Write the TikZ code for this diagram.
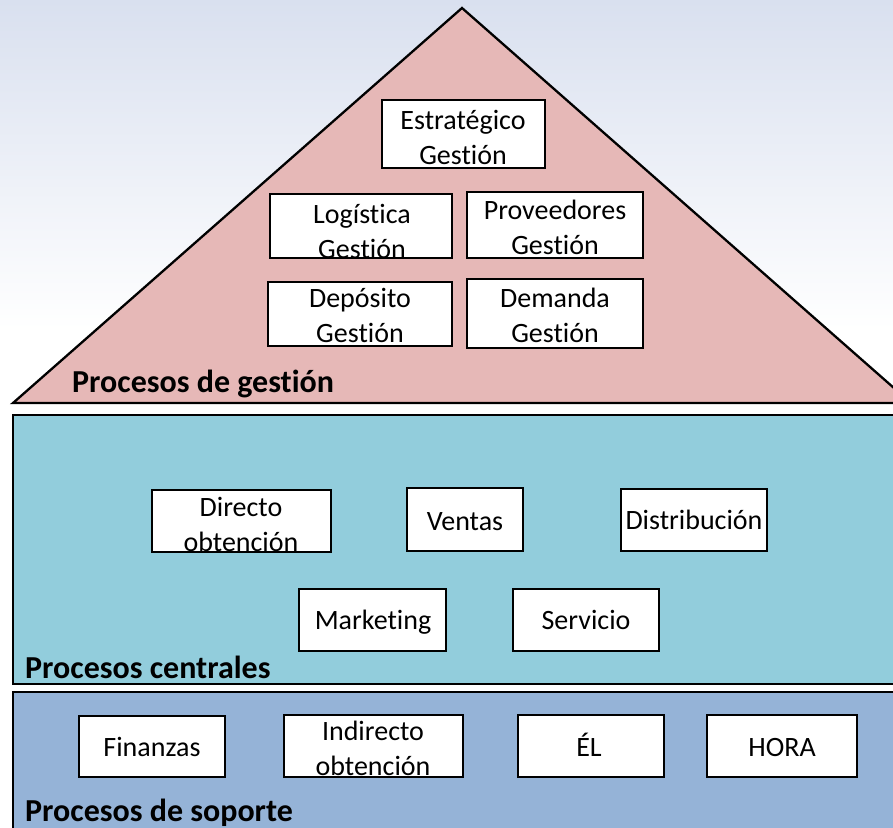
\documentclass[tikz,border=0pt]{standalone}
\usepackage{fontspec}
\setmainfont[Ligatures=NoCommon]{Carlito}
\definecolor{pinkfill}{HTML}{E6B8B7}
\definecolor{cyanfill}{HTML}{92CDDC}
\definecolor{bluefill}{HTML}{95B3D7}
\definecolor{bgtop}{HTML}{D9E0EF}
\begin{document}
\begin{tikzpicture}[x=1pt,y=-1pt,
  procbox/.style={draw=black, fill=white, line width=2.6pt, inner sep=0pt, outer sep=0pt},
  boxtext/.style={font=\fontsize{28}{35}\selectfont, align=center, inner sep=0pt},
  sectlabel/.style={font=\fontsize{32}{36}\selectfont\bfseries, anchor=base west, inner sep=0pt},
  band/.style={draw=black, line width=2.3pt}]
\useasboundingbox (0,0) rectangle (893,827);
\clip (0,0) rectangle (893,827);
% background
\fill[white] (0,0) rectangle (893,827);
\shade[top color=bgtop, bottom color=white] (0,0) rectangle (893,330);
% pyramid and bands
\filldraw[band, fill=pinkfill, line join=miter] (462,8) -- (13,403) -- (911,403) -- cycle;
\filldraw[band, fill=cyanfill] (13,415) rectangle (905,684);
\filldraw[band, fill=bluefill] (13,692) rectangle (905,850);
% section labels
\node[sectlabel] (lg) at (72,392) {Procesos de gestión};
\node[sectlabel] (lc) at (25,678) {Procesos centrales};
\node[sectlabel] (ls) at (25,821) {Procesos de soporte};
% management boxes
\node[procbox, minimum width=163, minimum height=68] (strat) at (463.5,134) {};
\node[boxtext] (tstrat) at (463,137) {Estratégico\\Gestión};
\node[procbox, minimum width=182, minimum height=64] (logis) at (361,226) {};
\node[boxtext] (tlogis) at (362,231) {Logística\\Gestión};
\node[procbox, minimum width=176, minimum height=66] (prov) at (555,225) {};
\node[boxtext] (tprov) at (555,227) {Proveedores\\Gestión};
\node[procbox, minimum width=184, minimum height=64] (depo) at (360,314) {};
\node[boxtext] (tdepo) at (360,315) {Depósito\\Gestión};
\node[procbox, minimum width=176, minimum height=69] (dem) at (555,313.5) {};
\node[boxtext] (tdem) at (555,315) {Demanda\\Gestión};
% core boxes
\node[procbox, minimum width=179, minimum height=62] (dir) at (241.5,521) {};
\node[boxtext] (tdir) at (241,524) {Directo\\obtención};
\node[procbox, minimum width=116, minimum height=63] (vent) at (465,519.5) {};
\node[boxtext, anchor=base] (tvent) at (465,530) {Ventas};
\node[procbox, minimum width=146, minimum height=62] (dist) at (694,520) {};
\node[boxtext, anchor=base] (tdist) at (694,529) {Distribución};
\node[procbox, minimum width=147, minimum height=62] (mkt) at (372.5,620) {};
\node[boxtext, anchor=base] (tmkt) at (373,629) {Marketing};
\node[procbox, minimum width=146, minimum height=62] (serv) at (586,620) {};
\node[boxtext, anchor=base] (tserv) at (586,629) {Servicio};
% support boxes
\node[procbox, minimum width=146, minimum height=61] (fin) at (152,746.5) {};
\node[boxtext, anchor=base] (tfin) at (152,756) {Finanzas};
\node[procbox, minimum width=179, minimum height=62] (ind) at (373.5,746) {};
\node[boxtext] (tind) at (373,748) {Indirecto\\obtención};
\node[procbox, minimum width=146, minimum height=62] (el) at (591,746) {};
\node[boxtext, anchor=base] (tel) at (589,756) {ÉL};
\node[procbox, minimum width=150, minimum height=62] (hora) at (782,746) {};
\node[boxtext, anchor=base] (thora) at (782,756) {HORA};
\end{tikzpicture}
\end{document}
